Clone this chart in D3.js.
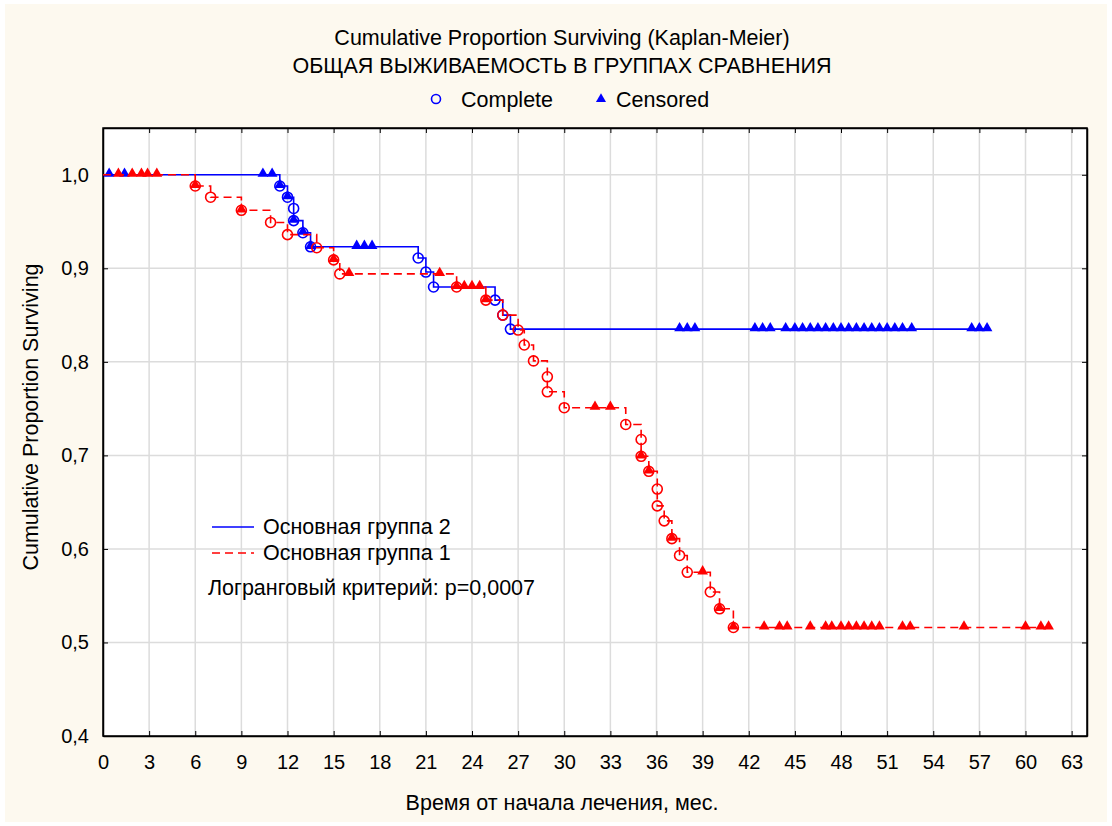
<!DOCTYPE html>
<html>
<head>
<meta charset="utf-8">
<script src="https://cdn.jsdelivr.net/npm/d3@7"></script>
<style>
  body { margin: 0; background: #fff; }
  svg { display: block; font-family: "Liberation Sans", Arial, sans-serif; }
</style>
</head>
<body>
<div id="km"></div>
<script>
// Основная группа 2 (blue): events [time, survival]
var g2Events = [
  [11.5, 0.988], [12.0, 0.976], [12.4, 0.964], [12.4, 0.951], [13.0, 0.938], [13.5, 0.923],
  [20.5, 0.911], [21.0, 0.896], [21.5, 0.880],
  [25.5, 0.866], [26.0, 0.850], [26.5, 0.835]
];
var g2Censored = [0.4, 1.4, 10.4, 11.0, 11.5, 12.0, 12.4, 13.0, 13.5, 16.5, 17.0, 17.5,
  37.5, 38.0, 38.5, 42.4, 42.9, 43.4, 44.4, 45.0, 45.5, 46.0, 46.5, 47.0, 47.5, 48.0,
  48.5, 49.0, 49.5, 50.0, 50.5, 51.0, 51.5, 52.0, 52.6, 56.5, 57.0, 57.5];
var g2End = 57.5;

// Основная группа 1 (red)
var g1Events = [
  [6.0, 0.988], [7.0, 0.976], [9.0, 0.962], [10.9, 0.949], [12.0, 0.936], [13.9, 0.922],
  [15.0, 0.909], [15.4, 0.894], [23.0, 0.880], [24.9, 0.866], [26.0, 0.850], [27.0, 0.834],
  [27.4, 0.818], [28.0, 0.801], [28.9, 0.784], [28.9, 0.768], [30.0, 0.751], [34.0, 0.733],
  [35.0, 0.717], [35.0, 0.699], [35.5, 0.683], [36.05, 0.664], [36.05, 0.646], [36.5, 0.630],
  [37.0, 0.611], [37.5, 0.593], [38.0, 0.575], [39.5, 0.554], [40.1, 0.536], [41.0, 0.516]
];
var g1Censored = [1.0, 1.9, 2.5, 2.9, 3.5, 6.0, 9.0, 15.0, 16.0, 21.9, 23.0, 23.5, 24.0, 24.5,
  24.9, 32.0, 33.0, 35.0, 35.5, 37.0, 39.0, 40.1, 41.0, 43.0, 44.0, 44.5, 46.0, 47.0, 47.4,
  48.0, 48.5, 49.0, 49.5, 50.0, 50.5, 52.0, 52.5, 56.0, 60.0, 61.0, 61.5];
var g1End = 61.7;

var xTicks = d3.range(0, 64, 3);
var yTicks = [0.4, 0.5, 0.6, 0.7, 0.8, 0.9, 1.0];

var W = 1112, H = 826;
var margin = {top: 128, right: 25, bottom: 90, left: 103};
var width = W - margin.left - margin.right,
    height = H - margin.top - margin.bottom;

var svg = d3.select("#km").append("svg")
  .attr("width", W)
  .attr("height", H);

svg.append("rect")
  .attr("x", 5).attr("y", 4)
  .attr("width", W - 10).attr("height", H - 8)
  .attr("fill", "#fdf9ef");

var g = svg.append("g")
  .attr("transform", "translate(" + margin.left + "," + margin.top + ")");

var x = d3.scaleLinear().domain([0, 64]).range([0, width]);
var y = d3.scaleLinear().domain([0.4, 1.05]).range([height, 0]);

g.append("rect")
  .attr("width", width).attr("height", height)
  .attr("fill", "#fff");

// grid
g.selectAll(".gx").data(xTicks.slice(1)).enter().append("line")
  .attr("x1", function(d) { return x(d); }).attr("x2", function(d) { return x(d); })
  .attr("y1", 0).attr("y2", height)
  .attr("stroke", "#dcdcdc").attr("stroke-width", 1.5);
g.selectAll(".gy").data(yTicks.slice(1)).enter().append("line")
  .attr("y1", function(d) { return y(d); }).attr("y2", function(d) { return y(d); })
  .attr("x1", 0).attr("x2", width)
  .attr("stroke", "#dcdcdc").attr("stroke-width", 1.5);

// axes (inward ticks)
g.append("g")
  .attr("transform", "translate(0," + height + ")")
  .call(d3.axisBottom(x).tickValues(xTicks).tickSizeInner(-5).tickSizeOuter(0).tickPadding(19))
  .call(function(a) { a.selectAll("text").style("font-size", "20px").attr("fill", "#000"); });
g.append("g")
  .call(d3.axisLeft(y).tickValues(yTicks).tickSizeInner(-5).tickSizeOuter(0).tickPadding(14)
    .tickFormat(function(d) { return d3.format(".1f")(d).replace(".", ","); }))
  .call(function(a) { a.selectAll("text").style("font-size", "20px").attr("fill", "#000"); });
g.append("g")
  .call(d3.axisTop(x).tickValues(xTicks).tickSizeInner(-5).tickSizeOuter(0).tickFormat(""));
g.append("g")
  .attr("transform", "translate(" + width + ",0)")
  .call(d3.axisRight(y).tickValues(yTicks).tickSizeInner(-5).tickSizeOuter(0).tickFormat(""));
g.selectAll(".domain").attr("stroke", "#000").attr("stroke-width", 1.5);

g.append("rect")
  .attr("width", width).attr("height", height)
  .attr("fill", "none").attr("stroke", "#000").attr("stroke-width", 1.5);

// survival curves
var line = d3.line()
  .x(function(d) { return x(d[0]); })
  .y(function(d) { return y(d[1]); })
  .curve(d3.curveStepAfter);

function levelAt(events, t) {
  var s = 1;
  events.forEach(function(e) { if (e[0] <= t) s = e[1]; });
  return s;
}

var tri = d3.symbol().type(d3.symbolTriangle).size(50);

function drawGroup(events, censored, end, color, dash) {
  var pts = [[0, 1]].concat(events).concat([[end, events[events.length - 1][1]]]);
  g.append("path")
    .datum(pts)
    .attr("d", line)
    .attr("fill", "none")
    .attr("stroke", color)
    .attr("stroke-width", 1.6)
    .attr("stroke-dasharray", dash);

  g.selectAll(null).data(events).enter().append("circle")
    .attr("cx", function(d) { return x(d[0]); })
    .attr("cy", function(d) { return y(d[1]); })
    .attr("r", 5)
    .attr("fill", "none")
    .attr("stroke", color)
    .attr("stroke-width", 1.6);

  g.selectAll(null).data(censored).enter().append("path")
    .attr("d", tri)
    .attr("transform", function(d) {
      return "translate(" + x(d) + "," + (y(levelAt(events, d)) - 1) + ")";
    })
    .attr("fill", color);
}

drawGroup(g2Events, g2Censored, g2End, "#0000ff", null);
drawGroup(g1Events, g1Censored, g1End, "#ff0000", "8,5");

// titles
var fs = "21.5px";
svg.append("text")
  .attr("x", 562).attr("y", 45)
  .attr("text-anchor", "middle")
  .style("font-size", fs)
  .text("Cumulative Proportion Surviving (Kaplan-Meier)");
svg.append("text")
  .attr("x", 562).attr("y", 73)
  .attr("text-anchor", "middle")
  .style("font-size", fs)
  .text("ОБЩАЯ ВЫЖИВАЕМОСТЬ В ГРУППАХ СРАВНЕНИЯ");

// top legend
svg.append("circle")
  .attr("cx", 436).attr("cy", 99).attr("r", 4.5)
  .attr("fill", "none").attr("stroke", "#0000ff").attr("stroke-width", 1.6);
svg.append("text")
  .attr("x", 461).attr("y", 107)
  .style("font-size", fs)
  .text("Complete");
svg.append("path")
  .attr("d", d3.symbol().type(d3.symbolTriangle).size(44))
  .attr("transform", "translate(601,99)")
  .attr("fill", "#0000ff");
svg.append("text")
  .attr("x", 616).attr("y", 107)
  .style("font-size", fs)
  .text("Censored");

// axis titles
svg.append("text")
  .attr("x", 562).attr("y", 810)
  .attr("text-anchor", "middle")
  .style("font-size", fs)
  .text("Время от начала лечения, мес.");
svg.append("text")
  .attr("transform", "translate(38,417) rotate(-90)")
  .attr("text-anchor", "middle")
  .style("font-size", fs)
  .text("Cumulative Proportion Surviving");

// in-plot legend
var legendItems = [
  {label: "Основная группа 2", color: "#0000ff", dash: null},
  {label: "Основная группа 1", color: "#ff0000", dash: "8,5"}
];
var legend = svg.selectAll(".legend").data(legendItems).enter().append("g")
  .attr("transform", function(d, i) { return "translate(212," + (527 + i * 26) + ")"; });
legend.append("line")
  .attr("x1", 0).attr("x2", 42)
  .attr("stroke", function(d) { return d.color; })
  .attr("stroke-width", 1.6)
  .attr("stroke-dasharray", function(d) { return d.dash; });
legend.append("text")
  .attr("x", 51).attr("y", 7)
  .style("font-size", fs)
  .text(function(d) { return d.label; });
svg.append("text")
  .attr("x", 208).attr("y", 595)
  .style("font-size", fs)
  .text("Логранговый критерий: p=0,0007");
</script>
</body>
</html>
